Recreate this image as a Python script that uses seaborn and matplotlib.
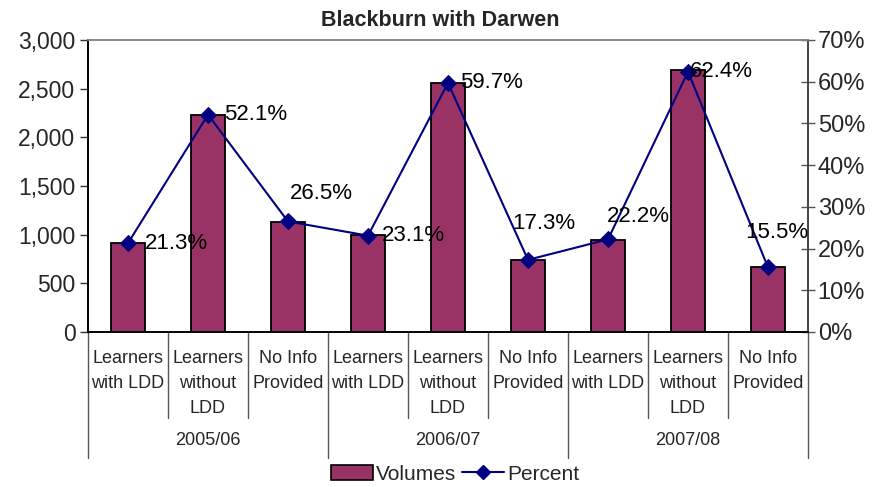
import numpy as np
import pandas as pd
import seaborn as sns
import matplotlib.pyplot as plt
from matplotlib.lines import Line2D
from matplotlib.patches import Patch
from matplotlib.ticker import FuncFormatter, MultipleLocator

### DATA ###
YEARS = ["2005/06", "2006/07", "2007/08"]
GROUPS = ["Learners\nwith LDD", "Learners\nwithout\nLDD", "No Info\nProvided"]
VOLUMES = [910, 2230, 1135, 995, 2555, 735, 950, 2695, 665]
PERCENT = [21.3, 52.1, 26.5, 23.1, 59.7, 17.3, 22.2, 62.4, 15.5]

# label offsets (pixels) from each marker, hand placed like the original
LABEL_DX = [17, 16, 2, 14, 12, -16, -1, 2, -23]
LABEL_DY = [0, 0, 28, 0, 0, 36, 23, 0, 35]

BAR_COLOR = "#993366"
LINE_COLOR = "#000080"

sns.set_style("white")
plt.rcParams["font.family"] = ["Liberation Sans", "DejaVu Sans"]
NARROW = ["Liberation Sans Narrow", "Liberation Sans", "DejaVu Sans"]

df = pd.DataFrame({
    "key": [f"{y}|{g}" for y in YEARS for g in GROUPS],
    "year": [y for y in YEARS for g in GROUPS],
    "group": [g for y in YEARS for g in GROUPS],
    "volume": VOLUMES,
    "percent": PERCENT,
})
df["pos"] = np.arange(len(df))

fig = plt.figure(figsize=(8.79, 4.87), dpi=100)
ax = fig.add_axes([88 / 879, 1 - 332 / 487, 720 / 879, 292 / 487])

sns.barplot(data=df, x="key", y="volume", order=df["key"], color=BAR_COLOR,
            saturation=1, width=0.42, edgecolor="black", linewidth=1.3, ax=ax)
ax.set_xlim(-0.5, len(df) - 0.5)
ax.set_ylim(0, 3000)
ax.yaxis.set_major_locator(MultipleLocator(500))
ax.yaxis.set_major_formatter(FuncFormatter(lambda v, p: f"{v:,.0f}"))
ax.set_xticks([])
ax.set_xlabel("")
ax.set_ylabel("")
ax.tick_params(axis="y", direction="out", length=6, width=1, color="#333333",
               labelsize=16.5, left=True, pad=3)

ax2 = ax.twinx()
sns.lineplot(data=df, x="pos", y="percent", color=LINE_COLOR, marker="D",
             markersize=8, markeredgecolor=LINE_COLOR, linewidth=1.5, ax=ax2)
ax2.set_ylim(0, 70)
ax2.set_xlim(-0.5, len(df) - 0.5)
ax2.yaxis.set_major_locator(MultipleLocator(10))
ax2.yaxis.set_major_formatter(FuncFormatter(lambda v, p: f"{v:.0f}%"))
ax2.set_xlabel("")
ax2.set_ylabel("")
ax2.tick_params(axis="y", direction="inout", length=10, width=1, color="#555555",
                labelsize=17, right=True, pad=2)

for i, row in df.iterrows():
    ax2.annotate(f"{row['percent']:.1f}%", (row["pos"], row["percent"]),
                 xytext=(LABEL_DX[i], LABEL_DY[i]), textcoords="offset pixels",
                 ha="left", va="center", fontsize=16, color="black")

for a in (ax, ax2):
    a.spines["top"].set_color("#888888")
    a.spines["left"].set_color("black")
    a.spines["right"].set_color("#444444")
    a.spines["bottom"].set_color("black")
    for s in a.spines.values():
        s.set_linewidth(1.2)

# category / year labels and separators below the axis
trans = ax.get_xaxis_transform()
n = len(df)
for b in range(n + 1):
    bottom = -0.43 if b % 3 == 0 else -0.295
    ax.plot([b - 0.5, b - 0.5], [0, bottom], transform=trans, color="#555555",
            lw=1, clip_on=False)
for i, row in df.iterrows():
    ax.text(row["pos"], -0.062, row["group"], transform=trans, ha="center",
            va="top", fontsize=13, family=NARROW, linespacing=1.6)
for j, y in enumerate(YEARS):
    ax.text(j * 3 + 1, -0.372, y, transform=trans, ha="center", va="center",
            fontsize=13, family=NARROW)

fig.text(440 / 879, 1 - 21 / 487, "Blackburn with Darwen", ha="center",
         va="center", fontsize=15.5, fontweight="bold")

handles = [
    Patch(facecolor=BAR_COLOR, edgecolor="black", linewidth=1.2, label="Volumes"),
    Line2D([], [], color=LINE_COLOR, marker="D", markersize=7, lw=1.5, label="Percent"),
]
fig.legend(handles=handles, loc="center", bbox_to_anchor=(455 / 879, 1 - 474 / 487),
           ncol=2, frameon=False, prop={"family": NARROW, "size": 15},
           handlelength=2.0, handletextpad=0.15, columnspacing=0.3)

fig.savefig("out.png", dpi=100)
